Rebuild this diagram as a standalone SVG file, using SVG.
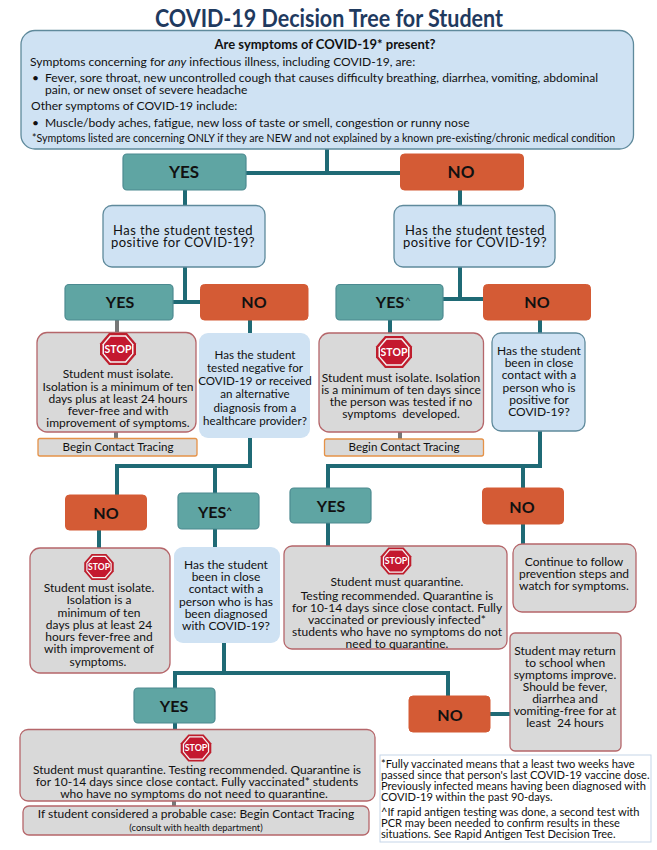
<svg xmlns="http://www.w3.org/2000/svg" xmlns:xlink="http://www.w3.org/1999/xlink" width="657" height="850" viewBox="0 0 657 850">
<style>
text{font-family:"Lato","Liberation Sans",sans-serif;fill:#111;text-anchor:middle}
.yes{fill:#5fa5a3;stroke:#4c8a90;stroke-width:1.2}
.no{fill:#d45b35;stroke:#d45b35;stroke-width:1}
.q{fill:#cfe2f3;stroke:#5f8a9c;stroke-width:1.3}
.qn{fill:#cfe2f3}
.r{fill:#d9d9d9;stroke:#b5666a;stroke-width:1.3}
.ct{fill:#d9d9d9;stroke:#e59248;stroke-width:1.3}
.btn{font-size:16px;font-weight:700}
.big{font-size:17px;font-weight:700}
.t{font-size:12px}
.w{font-size:11.6px}
.h{font-size:13px;letter-spacing:.45px}
.s{font-size:12.08px;text-anchor:start}
.n{font-size:11.1px;text-anchor:start}
.con{fill:none;stroke:#1f6a75;stroke-width:4}
.cong{fill:none;stroke:#777;stroke-width:4}
.stxt{fill:#fff;font-weight:700;font-size:10.5px}
</style>
<defs>
<g id="stop">
<polygon points="-9,-16 9,-16 18,-5.500 18,5.500 9,16 -9,16 -18,5.500 -18,-5.500" fill="#be1e2d"/>
<polygon points="-8,-13.800 8,-13.800 15.500,-4.800 15.500,4.800 8,13.800 -8,13.800 -15.500,4.800 -15.500,-4.800" fill="#f4f4f4"/>
<polygon points="-7.200,-12.300 7.200,-12.300 14,-4.400 14,4.400 7.200,12.300 -7.200,12.300 -14,4.400 -14,-4.400" fill="#c4182f"/>
<text class="stxt" y="4">STOP</text>
</g>
</defs>
<rect width="657" height="850" fill="#fff"/>
<g id="connectors">
<path class="con" d="M327 149V173M246 173H400M185 190V205M460 190V205M185 267V302M173 302H200M460 267V299M443 299H483"/>
<path class="cong" d="M117 320V332M116 432V438M400 432V439M174 801V806"/>
<path class="con" d="M250 320V333M390 320V333M540 320V333M250 438V466H117V495M215 466V493M99 530V548M215 529V547M540 431V466H328V488M523 466V488M328 523V546M523 524V544M224 641V673M175 688V673H448V696M175 723V729M490 714H510"/>
</g>
<text id="title" x="329" y="27" textLength="348" lengthAdjust="spacingAndGlyphs" style="font-size:25px;font-weight:700;fill:#1f3a5f">COVID-19 Decision Tree for Student</text>
<g id="n-symptoms">
<rect class="q" x="21" y="30.500" width="612.500" height="118.500" rx="14"/>
<text x="325" y="49" style="font-size:13px;font-weight:700">Are symptoms of COVID-19* present?</text>
<text class="s" x="30" y="66">Symptoms concerning for <tspan font-style="italic">any</tspan> infectious illness, including COVID-19, are:</text>
<text class="s" x="32" y="82">•</text>
<text class="s" x="45" y="82">Fever, sore throat, new uncontrolled cough that causes difficulty breathing, diarrhea, vomiting, abdominal</text>
<text class="s" x="45" y="94">pain, or new onset of severe headache</text>
<text class="s" x="31" y="110">Other symptoms of COVID-19 include:</text>
<text class="s" x="32" y="127">•</text>
<text class="s" x="45" y="127">Muscle/body aches, fatigue, new loss of taste or smell, congestion or runny nose</text>
<text class="s" x="32" y="142" style="font-size:10.65px">*Symptoms listed are concerning ONLY if they are NEW and not explained by a known pre-existing/chronic medical condition</text>
</g>
<g id="n-yes1"><rect class="yes" x="123" y="154" width="123" height="36" rx="4"/><text class="big" x="184" y="178">YES</text></g>
<g id="n-no1"><rect class="no" x="400.500" y="154" width="123" height="36" rx="4"/><text class="big" x="461" y="178">NO</text></g>
<g id="n-q-left"><rect class="q" x="103" y="205.500" width="162" height="61.500" rx="9"/>
<text class="h" x="183" y="235">Has the student tested</text><text class="h" x="183" y="247">positive for COVID-19?</text></g>
<g id="n-q-right"><rect class="q" x="394" y="205.500" width="161" height="61.500" rx="9"/>
<text class="h" x="475" y="235">Has the student tested</text><text class="h" x="475" y="247">positive for COVID-19?</text></g>
<g id="n-yes2"><rect class="yes" x="65" y="284.500" width="108" height="35.500" rx="4"/><text class="btn" x="120" y="308">YES</text></g>
<g id="n-no2"><rect class="no" x="200.500" y="284.500" width="107.500" height="35.500" rx="4"/><text class="btn" x="254" y="308">NO</text></g>
<g id="n-yes3"><rect class="yes" x="336" y="284.500" width="107" height="35.500" rx="4"/><text class="btn" x="390" y="308">YES</text><text x="408" y="304" style="font-size:10px">^</text></g>
<g id="n-no3"><rect class="no" x="483.500" y="284.500" width="107" height="35.500" rx="4"/><text class="btn" x="537" y="308">NO</text></g>
<g id="n-isolate1"><rect class="r" x="37" y="332.500" width="159" height="99.500" rx="10"/>
<use xlink:href="#stop" href="#stop" transform="translate(118 349)"/>
<text class="t" x="118" y="378">Student must isolate.</text><text class="t" x="118" y="391">Isolation is a minimum of ten</text><text class="t" x="118" y="403">days plus at least 24 hours</text><text class="t" x="118" y="415">fever-free and with</text><text class="t" x="118" y="427">improvement of symptoms.</text></g>
<g id="n-trace1"><rect class="ct" x="38" y="438.500" width="159" height="17.500" rx="2"/><text class="w" x="118" y="451">Begin Contact Tracing</text></g>
<g id="n-q-negative"><rect class="qn" x="199" y="333" width="111" height="105" rx="9"/>
<text class="w" x="255" y="359">Has the student</text><text class="w" x="255" y="372">tested negative for</text><text class="w" x="255" y="385">COVID-19 or received</text><text class="w" x="255" y="398">an alternative</text><text class="w" x="255" y="412">diagnosis from a</text><text class="w" x="255" y="425">healthcare provider?</text></g>
<g id="n-isolate2"><rect class="r" x="319" y="333" width="164.500" height="99" rx="10"/>
<use xlink:href="#stop" href="#stop" transform="translate(394 352)"/>
<text class="t" x="401" y="382">Student must isolate. Isolation</text><text class="t" x="401" y="394">is a minimum of ten days since</text><text class="t" x="401" y="406">the person was tested if no</text><text class="t" x="401" y="418" xml:space="preserve">symptoms  developed.</text></g>
<g id="n-trace2"><rect class="ct" x="324.500" y="439" width="159" height="17" rx="2"/><text class="w" x="404" y="451">Begin Contact Tracing</text></g>
<g id="n-q-contact1"><rect class="q" x="492" y="333" width="93" height="98" rx="9"/>
<text class="t" x="539" y="355">Has the student</text><text class="t" x="539" y="367">been in close</text><text class="t" x="539" y="379">contact with a</text><text class="t" x="539" y="392">person who is</text><text class="t" x="539" y="404">positive for</text><text class="t" x="539" y="416">COVID-19?</text></g>
<g id="n-no4"><rect class="no" x="65.500" y="495" width="81" height="35" rx="4"/><text class="btn" x="106" y="519">NO</text></g>
<g id="n-yes4"><rect class="yes" x="178" y="493" width="81" height="36" rx="4"/><text class="btn" x="215" y="518">YES<tspan style="font-size:10px" dy="-4">^</tspan></text></g>
<g id="n-yes5"><rect class="yes" x="290" y="488" width="81" height="35" rx="4"/><text class="btn" x="331" y="512">YES</text></g>
<g id="n-no5"><rect class="no" x="482.500" y="488" width="81" height="36" rx="4"/><text class="btn" x="522" y="513">NO</text></g>
<g id="n-isolate3"><rect class="r" x="30" y="548" width="140" height="125" rx="10"/>
<use xlink:href="#stop" href="#stop" transform="translate(99 567) scale(.82)"/>
<text class="t" x="99" y="592">Student must isolate.</text><text class="t" x="99" y="604">Isolation is a</text><text class="t" x="99" y="617">minimum of ten</text><text class="t" x="99" y="629">days plus at least 24</text><text class="t" x="99" y="641">hours fever-free and</text><text class="t" x="99" y="653">with improvement of</text><text class="t" x="98" y="666">symptoms.</text></g>
<g id="n-q-contact2"><rect class="qn" x="174" y="547" width="106" height="96" rx="9"/>
<text class="t" x="226" y="569">Has the student</text><text class="t" x="226" y="581">been in close</text><text class="t" x="226" y="593">contact with a</text><text class="t" x="226" y="606">person who is has</text><text class="t" x="226" y="618">been diagnosed</text><text class="t" x="226" y="630">with COVID-19?</text></g>
<g id="n-quarantine1"><rect class="r" x="284" y="546" width="223" height="103" rx="8"/>
<use xlink:href="#stop" href="#stop" transform="translate(396 561) scale(.85)"/>
<text class="t" x="397" y="586">Student must quarantine.</text><text class="t" x="397" y="600">Testing recommended. Quarantine is</text><text class="t" x="397" y="612">for 10-14 days since close contact. Fully</text><text class="t" x="397" y="624">vaccinated or previously infected*</text><text class="t" x="397" y="636">students who have no symptoms do not</text><text class="t" x="397" y="648">need to quarantine.</text></g>
<g id="n-continue"><rect class="r" x="513" y="544" width="123" height="68" rx="9"/>
<text class="t" x="574" y="566">Continue to follow</text><text class="t" x="574" y="578">prevention steps and</text><text class="t" x="574" y="590">watch for symptoms.</text></g>
<g id="n-return"><rect class="r" x="510" y="633" width="111" height="118" rx="5"/>
<text class="t" x="565" y="655">Student may return</text><text class="t" x="565" y="667">to school when</text><text class="t" x="565" y="679">symptoms improve.</text><text class="t" x="565" y="691">Should be fever,</text><text class="t" x="565" y="703">diarrhea and</text><text class="t" x="565" y="715">vomiting-free for at</text><text class="t" x="565" y="727" xml:space="preserve">least  24 hours</text></g>
<g id="n-yes6"><rect class="yes" x="134" y="688" width="81" height="35" rx="4"/><text class="btn" x="174" y="712">YES</text></g>
<g id="n-no6"><rect class="no" x="409" y="696" width="81" height="36" rx="4"/><text class="btn" x="450" y="721">NO</text></g>
<g id="n-quarantine2"><rect class="r" x="20" y="729.500" width="355" height="71.500" rx="8"/>
<use xlink:href="#stop" href="#stop" transform="translate(196 748) scale(.85)"/>
<text class="t" x="197" y="774">Student must quarantine. Testing recommended. Quarantine is</text><text class="t" x="197" y="786">for 10-14 days since close contact. Fully vaccinated* students</text><text class="t" x="194" y="798">who have no symptoms do not need to quarantine.</text></g>
<g id="n-probable"><rect class="r" x="23" y="806" width="346" height="29" rx="6"/>
<text class="t" x="196" y="818">If student considered a probable case: Begin Contact Tracing</text><text x="196" y="831" style="font-size:9.4px">(consult with health department)</text></g>
<g id="notes"><rect x="380" y="755" width="271" height="87" fill="#fff" stroke="#c5d5e8" stroke-width="1"/>
<text class="n" x="381" y="768">*Fully vaccinated means that a least two weeks have</text><text class="n" x="381" y="779">passed since that person's last COVID-19 vaccine dose.</text><text class="n" x="381" y="790">Previously infected means having been diagnosed with</text><text class="n" x="381" y="801">COVID-19 within the past 90-days.</text><text class="n" x="381" y="816">^If rapid antigen testing was done, a second test with</text><text class="n" x="381" y="827">PCR may been needed to confirm results in these</text><text class="n" x="381" y="838">situations. See Rapid Antigen Test Decision Tree.</text></g>
</svg>
